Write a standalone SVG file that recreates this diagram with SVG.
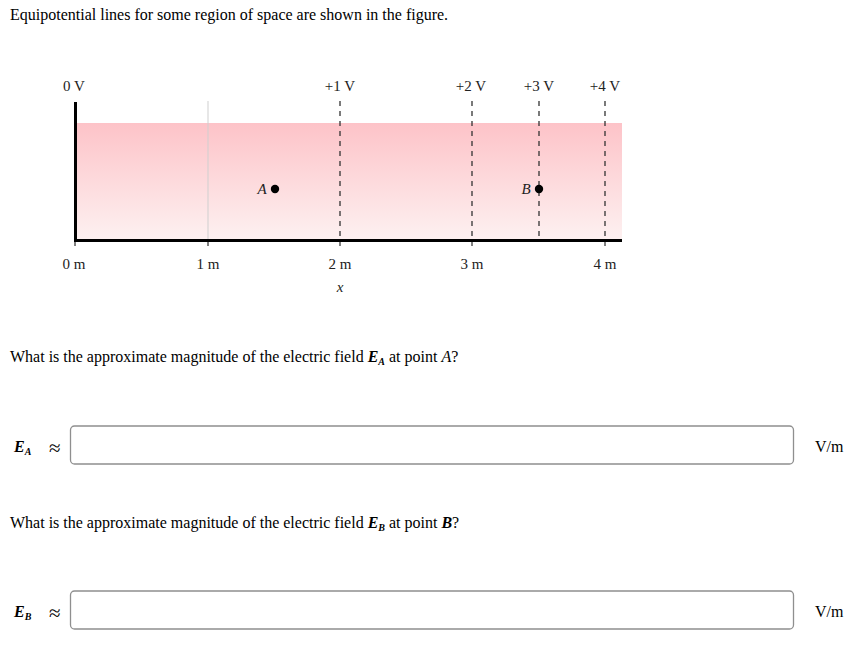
<svg xmlns="http://www.w3.org/2000/svg" width="858" height="647" viewBox="0 0 858 647">
<defs>
<linearGradient id="pink" x1="0" y1="0" x2="0" y2="1">
<stop offset="0" stop-color="#fdc3c8"/>
<stop offset="1" stop-color="#fdf1f1"/>
</linearGradient>
<style>
.t{font-family:"Liberation Serif","Times New Roman",serif;font-size:16px;fill:#000}
.s{font-family:"Liberation Serif","Times New Roman",serif;font-size:15px;fill:#222}
.i{font-style:italic}
.dash{stroke:#333;stroke-width:1.3;stroke-dasharray:5,5;fill:none}
.tick{stroke:#000;stroke-width:1;fill:none}
.box{fill:#fff;stroke:#8f8f8f;stroke-width:1.3}
.approx{font-family:"Liberation Serif",serif;font-size:21px}
</style>
</defs>
<rect width="858" height="647" fill="#fff"/>
<text class="t" x="10" y="20">Equipotential lines for some region of space are shown in the figure.</text>
<g id="figure">
<rect x="77" y="123" width="545" height="117" fill="url(#pink)"/>
<line x1="208" y1="101" x2="208" y2="240" stroke="#cfcfcf" stroke-width="1"/>
<g id="equipotentials">
<line class="dash" x1="340" y1="101" x2="340" y2="240"/>
<line class="dash" x1="472" y1="101" x2="472" y2="240"/>
<line class="dash" x1="539" y1="101" x2="539" y2="240"/>
<line class="dash" x1="605" y1="101" x2="605" y2="240"/>
</g>
<line x1="75.5" y1="102" x2="75.5" y2="242" stroke="#000" stroke-width="3"/>
<line x1="74" y1="240.5" x2="622" y2="240.5" stroke="#000" stroke-width="3"/>
<line class="tick" x1="75" y1="240" x2="75" y2="246"/>
<line class="tick" x1="208" y1="240" x2="208" y2="246"/>
<line class="tick" x1="340" y1="240" x2="340" y2="246"/>
<line class="tick" x1="472" y1="240" x2="472" y2="246"/>
<line class="tick" x1="605" y1="240" x2="605" y2="246"/>
<g class="s" text-anchor="middle">
<text x="74" y="91">0 V</text>
<text x="340" y="91">+1 V</text>
<text x="471" y="91">+2 V</text>
<text x="539" y="91">+3 V</text>
<text x="605" y="91">+4 V</text>
<text x="74" y="269">0 m</text>
<text x="208" y="269">1 m</text>
<text x="340" y="269">2 m</text>
<text x="472" y="269">3 m</text>
<text x="605" y="269">4 m</text>
<text class="i" x="340" y="292">x</text>
</g>
<g id="pointA">
<circle cx="275" cy="189" r="4.2" fill="#000"/>
<text class="s i" x="262" y="194" text-anchor="middle">A</text>
</g>
<g id="pointB">
<circle cx="539" cy="189" r="4.2" fill="#000"/>
<text class="s i" x="526" y="194" text-anchor="middle">B</text>
</g>
</g>
<text class="t" x="10" y="362">What is the approximate magnitude of the electric field <tspan class="i" font-weight="bold">E</tspan><tspan class="i" font-weight="bold" font-size="10" dy="3">A</tspan><tspan dy="-3"> at point </tspan><tspan class="i">A</tspan>?</text>
<g id="inputA">
<text class="t" x="14" y="452"><tspan class="i" font-weight="bold">E</tspan><tspan class="i" font-weight="bold" font-size="10" dy="3">A</tspan></text>
<text class="approx" x="49" y="455">≈</text>
<rect class="box" x="70.5" y="426" width="723" height="38" rx="4"/>
<text class="t" x="815" y="452">V/m</text>
</g>
<text class="t" x="10" y="528">What is the approximate magnitude of the electric field <tspan class="i" font-weight="bold">E</tspan><tspan class="i" font-weight="bold" font-size="10" dy="3">B</tspan><tspan dy="-3"> at point </tspan><tspan class="i" font-weight="bold">B</tspan>?</text>
<g id="inputB">
<text class="t" x="14" y="617"><tspan class="i" font-weight="bold">E</tspan><tspan class="i" font-weight="bold" font-size="10" dy="3">B</tspan></text>
<text class="approx" x="49" y="620">≈</text>
<rect class="box" x="70.5" y="591" width="723" height="38" rx="4"/>
<text class="t" x="815" y="617">V/m</text>
</g>
</svg>
